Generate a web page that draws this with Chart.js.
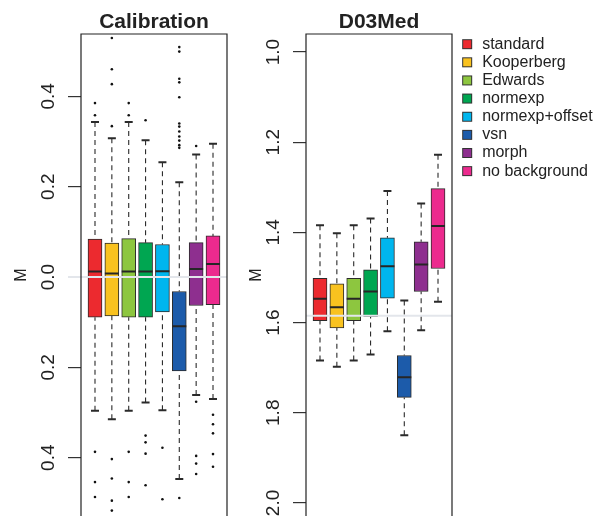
<!DOCTYPE html>
<html>
<head>
<meta charset="utf-8">
<script src="https://cdn.jsdelivr.net/npm/chart.js@4.4.1/dist/chart.umd.min.js"></script>
<style>
  html, body { margin: 0; padding: 0; background: #fff; overflow: hidden; }
  #wrap { position: relative; width: 594px; height: 516px; }
  #cal-box { position: absolute; left: 0; top: 0; width: 240px; height: 516px; }
  #d03-box { position: absolute; left: 240px; top: 0; width: 354px; height: 516px; }
</style>
</head>
<body>
<div id="wrap">
  <div id="cal-box"><canvas id="cal-chart"></canvas></div>
  <div id="d03-box"><canvas id="d03-chart"></canvas></div>
</div>
<script>
const methods = ['standard', 'Kooperberg', 'Edwards', 'normexp', 'normexp+offset', 'vsn', 'morph', 'no background'];
const colors = ['#ec2a2f', '#f9c21f', '#8dc63f', '#00a651', '#00b6ee', '#1c5baa', '#8e2f8f', '#ec2a8e'];

// Calibration panel (M values)
const calLow = [-0.296, -0.315, -0.296, -0.278, -0.295, -0.447, -0.261, -0.270];
const calQ1 = [-0.089, -0.086, -0.089, -0.089, -0.077, -0.208, -0.063, -0.061];
const calMedian = [0.012, 0.008, 0.012, 0.012, 0.013, -0.109, 0.018, 0.029];
const calQ3 = [0.084, 0.075, 0.085, 0.076, 0.072, -0.032, 0.076, 0.091];
const calHigh = [0.343, 0.307, 0.343, 0.303, 0.254, 0.210, 0.271, 0.295];
const calOutliers = [
  [0.358, 0.385, -0.387, -0.454, -0.487],
  [0.334, 0.427, 0.460, 0.529, -0.403, -0.446, -0.495, -0.517],
  [0.358, 0.385, -0.387, -0.454, -0.487],
  [0.347, -0.351, -0.366, -0.391, -0.461],
  [-0.378, -0.492],
  [0.286, 0.292, 0.302, 0.311, 0.322, 0.333, 0.340, 0.398, 0.431, 0.439, 0.499, 0.509, -0.489],
  [0.290, -0.276, -0.396, -0.413, -0.436],
  [-0.305, -0.326, -0.346, -0.392, -0.420]
];
const calTicks = [-0.4, -0.2, 0, 0.2, 0.4];
const calTickLabels = ['0.4', '0.2', '0.0', '0.2', '0.4'];
const calRange = [-0.529, 0.538];
const calRefLine = 0;

// D03Med panel (reversed axis)
const d03Low = [1.384, 1.402, 1.384, 1.369, 1.308, 1.551, 1.336, 1.228];
const d03Q1 = [1.502, 1.514, 1.502, 1.483, 1.412, 1.673, 1.421, 1.303];
const d03Median = [1.547, 1.566, 1.547, 1.531, 1.475, 1.721, 1.471, 1.386];
const d03Q3 = [1.596, 1.612, 1.596, 1.587, 1.546, 1.766, 1.531, 1.480];
const d03High = [1.684, 1.698, 1.684, 1.671, 1.619, 1.850, 1.617, 1.554];
const d03Ticks = [1.0, 1.2, 1.4, 1.6, 1.8, 2.0];
const d03TickLabels = ['1.0', '1.2', '1.4', '1.6', '1.8', '2.0'];
const d03Range = [0.96, 2.029];
const d03RefLine = 1.585;

const xRange = [0.17, 8.83];

Chart.defaults.font.family = '"Liberation Sans", Arial, Helvetica, sans-serif';
Chart.defaults.color = '#222';
Chart.defaults.animation = false;

// whiskers, caps, medians, frame and rotated tick labels, all placed via the chart scales
const boxPlotPlugin = {
  id: 'boxplot',
  beforeDatasetsDraw(chart, args, opts) {
    const {ctx, scales: {x, y}} = chart;
    ctx.save();
    ctx.strokeStyle = '#2a2a2a';
    opts.low.forEach((lo, i) => {
      const px = x.getPixelForValue(i + 1);
      ctx.setLineDash([5, 4]);
      ctx.lineWidth = 1.1;
      ctx.beginPath();
      ctx.moveTo(px, y.getPixelForValue(opts.high[i]));
      ctx.lineTo(px, y.getPixelForValue(opts.q3[i]));
      ctx.moveTo(px, y.getPixelForValue(lo));
      ctx.lineTo(px, y.getPixelForValue(opts.q1[i]));
      ctx.stroke();
      ctx.setLineDash([]);
      ctx.lineWidth = 2;
      ctx.beginPath();
      [lo, opts.high[i]].forEach(v => {
        const py = y.getPixelForValue(v);
        ctx.moveTo(px - 4, py);
        ctx.lineTo(px + 4, py);
      });
      ctx.stroke();
    });
    ctx.restore();
  },
  afterDatasetsDraw(chart, args, opts) {
    const {ctx, chartArea: area, scales: {y}} = chart;
    const bars = chart.getDatasetMeta(0).data;
    ctx.save();
    ctx.strokeStyle = '#262626';
    ctx.lineWidth = 2;
    ctx.beginPath();
    opts.median.forEach((m, i) => {
      const py = y.getPixelForValue(m);
      ctx.moveTo(bars[i].x - bars[i].width / 2, py);
      ctx.lineTo(bars[i].x + bars[i].width / 2, py);
    });
    ctx.stroke();

    // light reference line
    const ry = y.getPixelForValue(opts.refLine);
    ctx.strokeStyle = '#e3e6eb';
    ctx.lineWidth = 2;
    ctx.beginPath();
    ctx.moveTo(area.left - opts.refExtend, ry);
    ctx.lineTo(area.right, ry);
    ctx.stroke();

    // plot frame (bottom edge falls outside the picture)
    ctx.strokeStyle = '#222';
    ctx.lineWidth = 1.2;
    ctx.beginPath();
    ctx.moveTo(area.left, chart.height + 2);
    ctx.lineTo(area.left, area.top);
    ctx.lineTo(area.right, area.top);
    ctx.lineTo(area.right, chart.height + 2);
    ctx.stroke();

    // rotated tick labels
    ctx.fillStyle = '#222';
    ctx.font = '19px "Liberation Sans", Arial, sans-serif';
    ctx.textAlign = 'center';
    ctx.textBaseline = 'middle';
    y.ticks.forEach(t => {
      ctx.save();
      ctx.translate(area.left - 32.5, y.getPixelForValue(t.value));
      ctx.rotate(-Math.PI / 2);
      ctx.fillText(t.label, 0, 0);
      ctx.restore();
    });
    ctx.restore();
  }
};

function boxData(q1, q3) {
  return q1.map((v, i) => ({x: i + 1, y: [v, q3[i]]}));
}

function outlierData(list) {
  const pts = [];
  list.forEach((vals, i) => vals.forEach(v => pts.push({x: i + 1, y: v})));
  return pts;
}

// legend swatch: small framed square with a gap before the label
function makeSwatch(color) {
  const c = document.createElement('canvas');
  c.width = 20;
  c.height = 12;
  const g = c.getContext('2d');
  g.fillStyle = color;
  g.fillRect(8, 1, 10, 10);
  g.strokeStyle = '#333';
  g.lineWidth = 1;
  g.strokeRect(8.5, 1.5, 9, 9);
  return c;
}
const swatches = colors.map(makeSwatch);

function panelOptions(cfg) {
  return {
    responsive: true,
    maintainAspectRatio: false,
    layout: {autoPadding: false, padding: {left: 0, right: cfg.padRight, top: 0, bottom: 0}},
    scales: {
      x: {type: 'linear', min: xRange[0], max: xRange[1], offset: false, display: false},
      y: {
        min: cfg.range[0],
        max: cfg.range[1],
        reverse: cfg.reverse,
        afterFit: s => { s.width = cfg.axisWidth; },
        afterBuildTicks: s => { s.ticks = cfg.ticks.map(v => ({value: v})); },
        ticks: {
          display: false,
          callback: v => cfg.tickLabels[cfg.ticks.findIndex(t => Math.abs(t - v) < 1e-9)]
        },
        grid: {drawOnChartArea: false, drawTicks: true, tickLength: 13, color: '#333', lineWidth: 1.2},
        border: {display: false},
        title: {
          display: true,
          text: 'M',
          color: '#222',
          font: {size: 16},
          padding: {top: cfg.titlePad, bottom: 0}
        }
      }
    },
    plugins: {
      title: {
        display: true,
        text: cfg.title,
        fullSize: false,
        color: '#222',
        font: {size: 21, weight: 'bold', lineHeight: 1},
        padding: {top: 12, bottom: 1}
      },
      legend: cfg.legend,
      tooltip: {enabled: false},
      boxplot: {
        low: cfg.low, q1: cfg.q1, median: cfg.median, q3: cfg.q3, high: cfg.high,
        refLine: cfg.refLine, refExtend: cfg.refExtend
      }
    }
  };
}

function datasets(q1, q3, outliers) {
  return [
    {
      type: 'bar',
      data: boxData(q1, q3),
      backgroundColor: colors,
      borderColor: '#2b2b2b',
      borderWidth: 1,
      borderSkipped: false,
      barThickness: 14
    },
    {
      type: 'scatter',
      data: outlierData(outliers),
      pointRadius: 1.3,
      pointBorderWidth: 0,
      backgroundColor: '#111'
    }
  ];
}

new Chart(document.getElementById('cal-chart'), {
  type: 'bar',
  data: {datasets: datasets(calQ1, calQ3, calOutliers)},
  options: panelOptions({
    title: 'Calibration', range: calRange, reverse: false, ticks: calTicks, tickLabels: calTickLabels,
    axisWidth: 81, padRight: 13, titlePad: 12, legend: {display: false},
    low: calLow, q1: calQ1, median: calMedian, q3: calQ3, high: calHigh,
    refLine: calRefLine, refExtend: 13
  }),
  plugins: [boxPlotPlugin]
});

new Chart(document.getElementById('d03-chart'), {
  type: 'bar',
  data: {datasets: datasets(d03Q1, d03Q3, methods.map(() => []))},
  options: panelOptions({
    title: 'D03Med', range: d03Range, reverse: true, ticks: d03Ticks, tickLabels: d03TickLabels,
    axisWidth: 66, padRight: 0, titlePad: 7.4,
    legend: {
      display: true,
      position: 'right',
      align: 'start',
      fullSize: false,
      maxWidth: 142,
      labels: {
        font: {size: 16},
        color: '#222',
        padding: 2.14,
        usePointStyle: true,
        pointStyleWidth: 20,
        generateLabels: () => methods.map((m, i) => ({
          text: m, fillStyle: colors[i], strokeStyle: '#333', lineWidth: 1,
          pointStyle: swatches[i], hidden: false, index: i, fontColor: '#222'
        }))
      }
    },
    low: d03Low, q1: d03Q1, median: d03Median, q3: d03Q3, high: d03High,
    refLine: d03RefLine, refExtend: 0
  }),
  plugins: [boxPlotPlugin]
});
</script>
</body>
</html>
